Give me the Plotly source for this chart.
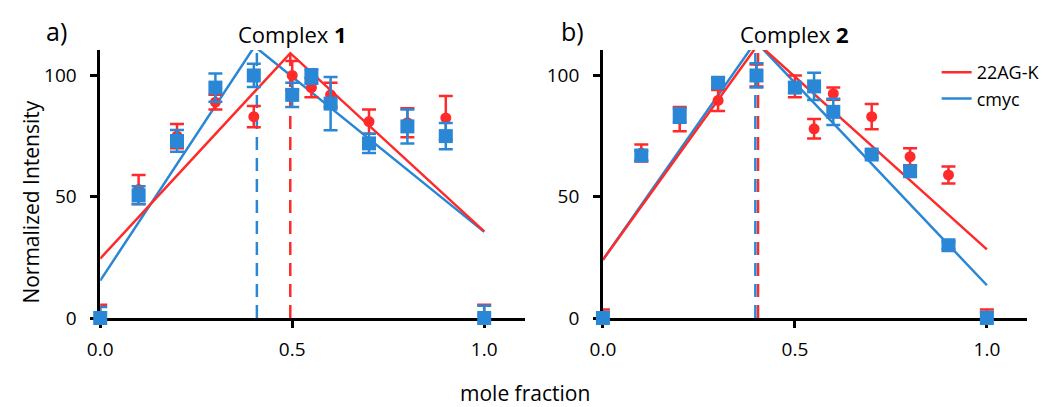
import plotly.graph_objects as go

# Job plot data: mole fraction vs normalized intensity
mole_fraction = [0, 0.1, 0.2, 0.3, 0.4, 0.5, 0.55, 0.6, 0.7, 0.8, 0.9, 1.0]

# Complex 1
c1_22ag = [0, 53, 75, 89, 83, 100, 95, 92, 81, 80.5, 82.5, 0]
c1_22ag_err = [5.5, 6, 5, 3, 4.4, 6, 4, 5, 5, 6, 9, 5.5]
c1_cmyc = [0, 50.6, 73, 95, 100, 92, 99.6, 88.4, 72, 79, 75, 0]
c1_cmyc_err = [4.5, 3.7, 4.5, 5.8, 4.8, 5, 3, 11, 4, 7, 5.4, 5]

# Complex 2
c2_22ag = [0, 68, 82, 89.7, 100, 95.5, 78, 92.5, 83, 66.5, 59, 0]
c2_22ag_err = [3.5, 3.5, 5, 4.3, 4.5, 4.5, 4, 2.5, 5.2, 3.5, 3.5, 3.5]
c2_cmyc = [0, 67, 83.5, 97, 100, 95, 95.5, 85, 67.4, 60.5, 30, 0]
c2_cmyc_err = [2.5, 2, 3, 2, 5, 2, 5.6, 5.4, 1.5, 2, 1.5, 2.5]

# Linear fits (rising / falling branches meeting at the intersection)
c1_fit_22ag_x = [0, 0.495, 1.0]
c1_fit_22ag_y = [24.5, 109.2, 35.7]
c1_fit_cmyc_x = [0, 0.402, 1.0]
c1_fit_cmyc_y = [15.4, 112, 35.5]
c2_fit_22ag_x = [0, 0.405, 1.0]
c2_fit_22ag_y = [24, 113, 28.3]
c2_fit_cmyc_x = [0, 0.398, 1.0]
c2_fit_cmyc_y = [24, 114, 13.5]

# Stoichiometry markers (dashed verticals)
c1_max = {"22AG-K": 0.495, "cmyc": 0.408}
c2_max = {"22AG-K": 0.404, "cmyc": 0.397}

RED = "#ff2a2a"
BLUE = "#2a87d5"
FONT = "Open Sans, DejaVu Sans, sans-serif"
Y_TOP = 110.5
X_END = 1.105

fig = go.Figure()


def add_panel(xa, ya, red, red_err, blue, blue_err, fr_x, fr_y, fb_x, fb_y, vmax, legend):
    # dashed stoichiometry lines
    for name, col in (("22AG-K", RED), ("cmyc", BLUE)):
        fig.add_trace(go.Scatter(
            x=[vmax[name], vmax[name]], y=[0, Y_TOP], mode="lines",
            line=dict(color=col, width=2.5, dash="13px,8px"),
            xaxis=xa, yaxis=ya, showlegend=False, hoverinfo="skip"))
    # fit lines
    fig.add_trace(go.Scatter(
        x=fb_x, y=fb_y, mode="lines", line=dict(color=BLUE, width=2.5),
        xaxis=xa, yaxis=ya, name="cmyc", showlegend=False, legendrank=2))
    fig.add_trace(go.Scatter(
        x=fr_x, y=fr_y, mode="lines", line=dict(color=RED, width=2.5),
        xaxis=xa, yaxis=ya, name="22AG-K", showlegend=legend, legendrank=1))
    if legend:
        fig.add_trace(go.Scatter(
            x=[None], y=[None], mode="lines", line=dict(color=BLUE, width=2.5),
            xaxis=xa, yaxis=ya, name="cmyc", showlegend=True, legendrank=2))
    # data points
    fig.add_trace(go.Scatter(
        x=mole_fraction, y=red, mode="markers",
        marker=dict(symbol="circle", size=11, color=RED),
        error_y=dict(type="data", array=red_err, color=RED, thickness=2.5, width=7),
        xaxis=xa, yaxis=ya, showlegend=False, cliponaxis=False))
    fig.add_trace(go.Scatter(
        x=mole_fraction, y=blue, mode="markers",
        marker=dict(symbol="square", size=14, color=BLUE),
        error_y=dict(type="data", array=blue_err, color=BLUE, thickness=2.5, width=7),
        xaxis=xa, yaxis=ya, showlegend=False, cliponaxis=False))


add_panel("x", "y", c1_22ag, c1_22ag_err, c1_cmyc, c1_cmyc_err,
          c1_fit_22ag_x, c1_fit_22ag_y, c1_fit_cmyc_x, c1_fit_cmyc_y, c1_max, False)
add_panel("x2", "y2", c2_22ag, c2_22ag_err, c2_cmyc, c2_cmyc_err,
          c2_fit_22ag_x, c2_fit_22ag_y, c2_fit_cmyc_x, c2_fit_cmyc_y, c2_max, True)

W, H = 1045, 407
axis_common = dict(
    showline=True, linecolor="black", linewidth=2.5, showgrid=False, zeroline=False,
    ticks="outside", ticklen=7, tickwidth=2.5, tickcolor="black",
    tickfont=dict(family=FONT, size=19, color="black"), layer="below traces",
)
xticks = dict(tickvals=[0, 0.5, 1.0], ticktext=["0.0", "0.5", "1.0"], range=[0, X_END],
              ticklabelstandoff=5)
yticks = dict(tickvals=[0, 50, 100], range=[0, Y_TOP], ticklabelstandoff=10)

fig.update_layout(
    width=W, height=H,
    margin=dict(l=0, r=0, t=50, b=89),
    plot_bgcolor="white", paper_bgcolor="white",
    font=dict(family=FONT, color="black"),
    xaxis=dict(domain=[89 / W, 522 / W], anchor="y", **xticks, **axis_common),
    yaxis=dict(domain=[0, 1], anchor="x", **yticks, **axis_common),
    xaxis2=dict(domain=[602 / W, 1035 / W], anchor="y2", **xticks, **axis_common),
    yaxis2=dict(domain=[0, 1], anchor="x2", **yticks, **axis_common),
    legend=dict(x=0.902, y=0.985, xanchor="left", yanchor="top",
                font=dict(family=FONT, size=18, color="black"),
                bgcolor="rgba(0,0,0,0)", tracegroupgap=0, itemwidth=30),
    showlegend=True,
)

ann = dict(showarrow=False, font=dict(family=FONT, size=22, color="black"))
fig.add_annotation(x=0.5, xref="x", y=1.06, yref="paper", text="Complex <b>1</b>",
                   xanchor="center", yanchor="middle", **ann)
fig.add_annotation(x=0.5, xref="x2", y=1.06, yref="paper", text="Complex <b>2</b>",
                   xanchor="center", yanchor="middle", **ann)
big = dict(showarrow=False, font=dict(family=FONT, size=25, color="black"))
fig.add_annotation(x=32 / W, xref="paper", y=1.07, yref="paper", text="a)",
                   xanchor="left", yanchor="middle", **big)
fig.add_annotation(x=557 / W, xref="paper", y=1.07, yref="paper", text="b)",
                   xanchor="left", yanchor="middle", **big)
fig.add_annotation(x=18 / W, xref="paper", y=0.433, yref="paper", text="Normalized Intensity",
                   textangle=-90, xanchor="center", yanchor="middle",
                   showarrow=False, font=dict(family=FONT, size=21, color="black"))
fig.add_annotation(x=523 / W, xref="paper", y=-0.28, yref="paper", text="mole fraction",
                   xanchor="center", yanchor="middle",
                   showarrow=False, font=dict(family=FONT, size=21, color="black"))

fig.write_html("out.html")
